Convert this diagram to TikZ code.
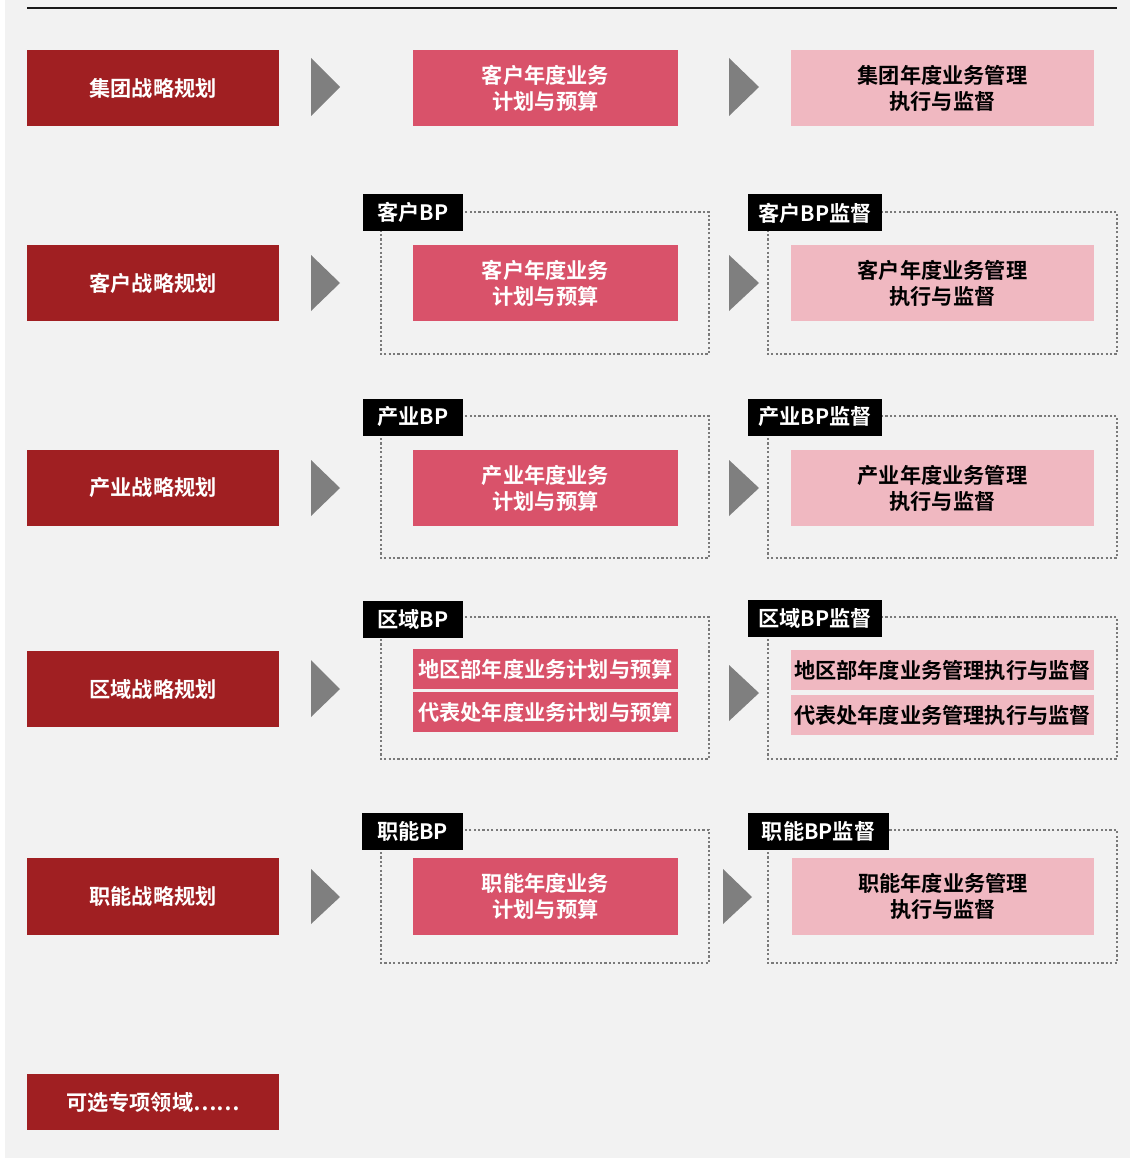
\documentclass[tikz,border=0pt]{standalone}
\usepackage{fontspec}
\setmainfont{Noto Sans CJK SC}[BoldFont={Noto Sans CJK SC Bold}]
\definecolor{bgc}{HTML}{F2F2F2}
\definecolor{darkred}{HTML}{A01F22}
\definecolor{midred}{HTML}{D9526A}
\definecolor{lightpink}{HTML}{F0B8C1}
\definecolor{arrowgray}{HTML}{7F7F7F}
\definecolor{dotgray}{HTML}{7A7A7A}
\tikzset{
  txt/.style={font=\fontsize{21.2}{26}\selectfont\bfseries, align=center, inner sep=0pt},
  stratbox/.style={txt, fill=darkred, text=white, minimum width=252pt, minimum height=76pt},
  planbox/.style={txt, fill=midred, text=white, minimum width=265pt, minimum height=76pt},
  execbox/.style={txt, fill=lightpink, text=black, minimum width=303pt, minimum height=76pt},
  planhalf/.style={txt, fill=midred, text=white, minimum width=265pt, minimum height=40pt},
  exechalf/.style={txt, fill=lightpink, text=black, minimum width=303pt, minimum height=40pt},
  tagbox/.style={txt, fill=black, text=white, minimum height=37pt},
  dotbox/.style={draw=dotgray, line width=2.2pt, dash pattern=on 2.2pt off 2.2pt},
  tri/.style={fill=arrowgray}
}
\begin{document}
\begin{tikzpicture}[x=1pt,y=-1pt]
\useasboundingbox (0,0) rectangle (1130,1158);
\fill[white] (0,0) rectangle (1130,1158);
\fill[bgc] (5,0) rectangle (1130,1158);
\coordinate (tl) at (27,8);
\coordinate (tr) at (1117,8);
\draw[line width=2pt, black!90] (tl) -- (tr);

% Row 1
\node[stratbox] (s1) at (153,88) {集团战略规划};
\node[planbox] (p1) at (545.5,88) {客户年度业务\\计划与预算};
\node[execbox] (e1) at (942.5,88) {集团年度业务管理\\执行与监督};
\fill[tri] (311,58) -- (340,87) -- (311,116) -- cycle;
\fill[tri] (729,58) -- (759,87) -- (729,116) -- cycle;

% Row 2
\draw[dotbox] (381,212) rectangle (709,354);
\draw[dotbox] (768,212) rectangle (1117,354);
\node[stratbox] (s2) at (153,283) {客户战略规划};
\node[planbox] (p2) at (545.5,283) {客户年度业务\\计划与预算};
\node[execbox] (e2) at (942.5,283) {客户年度业务管理\\执行与监督};
\node[tagbox, minimum width=100pt] (b2) at (413,212.5) {客户BP};
\node[tagbox, minimum width=134pt] (m2) at (815,213) {客户BP监督};
\fill[tri] (311,255) -- (340,283) -- (311,311) -- cycle;
\fill[tri] (729,255) -- (759,283) -- (729,311) -- cycle;

% Row 3
\draw[dotbox] (381,416) rectangle (709,558);
\draw[dotbox] (768,416) rectangle (1117,558);
\node[stratbox] (s3) at (153,488) {产业战略规划};
\node[planbox] (p3) at (545.5,488) {产业年度业务\\计划与预算};
\node[execbox] (e3) at (942.5,488) {产业年度业务管理\\执行与监督};
\node[tagbox, minimum width=100pt] (b3) at (413,417) {产业BP};
\node[tagbox, minimum width=134pt] (m3) at (815,417) {产业BP监督};
\fill[tri] (311,460) -- (340,488) -- (311,516) -- cycle;
\fill[tri] (729,460) -- (759,488) -- (729,516) -- cycle;

% Row 4
\draw[dotbox] (381,617) rectangle (709,759);
\draw[dotbox] (768,617) rectangle (1117,759);
\node[stratbox] (s4) at (153,689) {区域战略规划};
\node[planhalf] (p4a) at (545.5,669) {地区部年度业务计划与预算};
\node[planhalf] (p4b) at (545.5,712) {代表处年度业务计划与预算};
\node[exechalf] (e4a) at (942.5,670) {地区部年度业务管理执行与监督};
\node[exechalf] (e4b) at (942.5,715) {代表处年度业务管理执行与监督};
\node[tagbox, minimum width=100pt] (b4) at (413,619) {区域BP};
\node[tagbox, minimum width=134pt] (m4) at (815,618) {区域BP监督};
\fill[tri] (311,660) -- (340,689) -- (311,717) -- cycle;
\fill[tri] (729,665) -- (759,693) -- (729,721) -- cycle;

% Row 5
\draw[dotbox] (381,830) rectangle (709,963);
\draw[dotbox] (768,830) rectangle (1117,963);
\node[stratbox, minimum height=77pt] (s5) at (153,896.5) {职能战略规划};
\node[planbox, minimum height=77pt] (p5) at (545.5,896.5) {职能年度业务\\计划与预算};
\node[execbox, minimum height=77pt, minimum width=302pt] (e5) at (943,896.5) {职能年度业务管理\\执行与监督};
\node[tagbox, minimum width=101pt] (b5) at (412.5,831) {职能BP};
\node[tagbox, minimum width=141pt] (m5) at (818.5,831) {职能BP监督};
\fill[tri] (311,869) -- (340,897) -- (311,924) -- cycle;
\fill[tri] (723,869) -- (752,897) -- (723,924) -- cycle;

% Row 6
\node[stratbox, minimum height=56pt] (s6) at (153,1102) {可选专项领域……};
\end{tikzpicture}
\end{document}
